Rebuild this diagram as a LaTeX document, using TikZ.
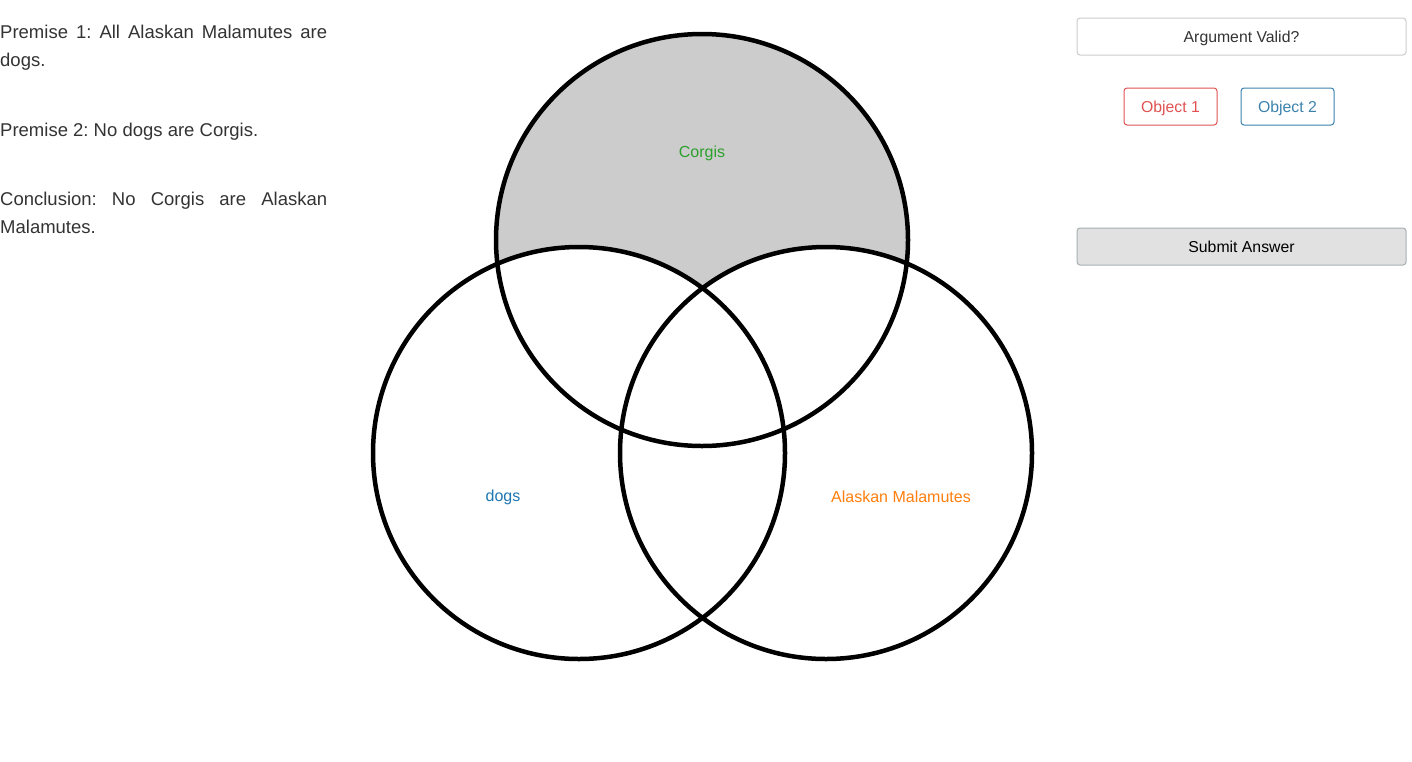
\documentclass[tikz,border=0pt]{standalone}
\usepackage{fontspec}
\setmainfont{Liberation Sans}
\frenchspacing
\hyphenpenalty=10000
\tolerance=10000
\definecolor{bodytext}{HTML}{333333}
\definecolor{venngray}{HTML}{CCCCCC}
\definecolor{corgigreen}{HTML}{2CA02C}
\definecolor{dogblue}{HTML}{1F77B4}
\definecolor{malamuteorange}{HTML}{FF7F0E}
\definecolor{objred}{HTML}{E05252}
\definecolor{objblue}{HTML}{3B82AE}
\definecolor{btnline}{HTML}{CCCCCC}
\definecolor{submitfill}{HTML}{E1E1E1}
\definecolor{submitline}{HTML}{A8AFB3}

\begin{document}
\begin{tikzpicture}[x=1pt, y=-1pt,
  premise/.style={anchor=base west, inner sep=0, text width=327pt, align=justify,
    text=bodytext, font=\fontsize{18.5}{28.6}\selectfont},
  setlabel/.style={font=\fontsize{16}{18}\selectfont},
  ring/.style={line width=4.5pt},
  btn/.style={draw, rounded corners=3pt, line width=1pt, minimum height=37pt,
    inner sep=0, text height=11pt, text depth=0pt, font=\fontsize{15.8}{18}\selectfont}]
  \useasboundingbox (0,0) rectangle (1412,761);
  % premises
  \node[premise] (prem1) at (0,38) {Premise 1: All Alaskan Malamutes are dogs.};
  \node[premise] (prem2) at (0,136) {Premise 2: No dogs are Corgis.};
  \node[premise] (concl) at (0,205) {Conclusion: No Corgis are Alaskan Malamutes.};
  % shaded part of corgis
  \fill[venngray] (702,240) circle[radius=206];
  \fill[white] (579,453) circle[radius=206] (826,453) circle[radius=206];
  % rings
  \foreach \cx/\cy in {702/240,579/453,826/453} {
    \draw[ring] (\cx,\cy) circle[radius=206];
  }
  % set names
  \node[setlabel, text=corgigreen] (corgis) at (702,153) {Corgis};
  \node[setlabel, text=dogblue] (dogs) at (503,497) {dogs};
  \node[setlabel, text=malamuteorange] (malamutes) at (901,497) {Alaskan Malamutes};
  % buttons
  \node[btn, draw=btnline, text=bodytext, minimum width=329pt] (valid) at (1241.5,36.5) {Argument Valid?};
  \node[btn, draw=objred, text=objred, minimum width=93pt] (obj1) at (1170.5,106.5) {Object 1};
  \node[btn, draw=objblue, text=objblue, minimum width=93pt] (obj2) at (1287.5,106.5) {Object 2};
  \node[btn, draw=submitline, fill=submitfill, text=black, minimum width=329pt] (submit) at (1241.5,246.5) {Submit Answer};
\end{tikzpicture}
\end{document}
